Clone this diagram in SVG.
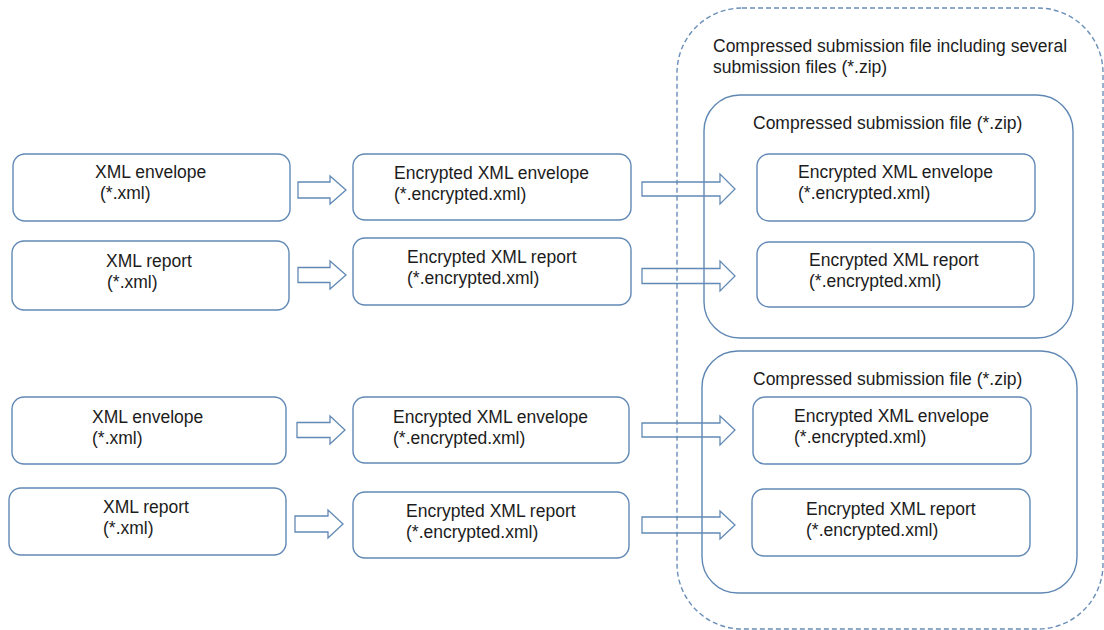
<svg xmlns="http://www.w3.org/2000/svg" width="1104" height="630" viewBox="0 0 1104 630">
<style>
.box{fill:#fff;stroke:#6189b5;stroke-width:1.4}
.cont{fill:none;stroke:#5f87b3;stroke-width:1.4}
.outer{fill:none;stroke:#6a8fb8;stroke-width:1.4;stroke-dasharray:5 3}
.arr{fill:none;stroke:#6189b5;stroke-width:1.3;stroke-linejoin:miter}
text{font-family:"Liberation Sans",Arial,sans-serif;font-size:17.5px;fill:#1c1c1c}
</style>
<rect width="1104" height="630" fill="#fff"/>
<g id="outer">
<rect class="outer" x="677" y="8" width="426" height="621" rx="65"/>
<text x="713" y="52">Compressed submission file including several</text>
<text x="713" y="73">submission files (*.zip)</text>
</g>
<g id="zip1">
<rect class="cont" x="704" y="95" width="369" height="243" rx="36"/>
<text x="753" y="129">Compressed submission file (*.zip)</text>
</g>
<g id="zip2">
<rect class="cont" x="702" y="351" width="375" height="242" rx="36"/>
<text x="753" y="385">Compressed submission file (*.zip)</text>
</g>
<g id="n1"><rect class="box" x="13" y="154" width="277" height="67" rx="12"/><text x="95" y="178">XML envelope</text><text x="100" y="199">(*.xml)</text></g>
<g id="n2"><rect class="box" x="12" y="241" width="277" height="69" rx="12"/><text x="106" y="267">XML report</text><text x="107" y="288">(*.xml)</text></g>
<g id="n3"><rect class="box" x="353" y="154" width="278" height="66" rx="12"/><text x="394" y="179">Encrypted XML envelope</text><text x="394" y="200">(*.encrypted.xml)</text></g>
<g id="n4"><rect class="box" x="353" y="238" width="278" height="67" rx="12"/><text x="407" y="263">Encrypted XML report</text><text x="407" y="284">(*.encrypted.xml)</text></g>
<g id="n5"><rect class="box" x="757" y="154" width="278" height="67" rx="12"/><text x="798" y="178">Encrypted XML envelope</text><text x="798" y="199">(*.encrypted.xml)</text></g>
<g id="n6"><rect class="box" x="757" y="242" width="277" height="65" rx="12"/><text x="809" y="266">Encrypted XML report</text><text x="809" y="287">(*.encrypted.xml)</text></g>
<g id="n7"><rect class="box" x="12" y="397" width="274" height="67" rx="12"/><text x="92" y="423">XML envelope</text><text x="92" y="444">(*.xml)</text></g>
<g id="n8"><rect class="box" x="9" y="488" width="277" height="67" rx="12"/><text x="103" y="513">XML report</text><text x="103" y="534">(*.xml)</text></g>
<g id="n9"><rect class="box" x="353" y="397" width="276" height="66" rx="12"/><text x="393" y="423">Encrypted XML envelope</text><text x="393" y="444">(*.encrypted.xml)</text></g>
<g id="n10"><rect class="box" x="353" y="492" width="276" height="66" rx="12"/><text x="406" y="517">Encrypted XML report</text><text x="406" y="538">(*.encrypted.xml)</text></g>
<g id="n11"><rect class="box" x="753" y="397" width="278" height="67" rx="12"/><text x="794" y="422">Encrypted XML envelope</text><text x="794" y="443">(*.encrypted.xml)</text></g>
<g id="n12"><rect class="box" x="752" y="489" width="278" height="67" rx="12"/><text x="806" y="515">Encrypted XML report</text><text x="806" y="536">(*.encrypted.xml)</text></g>
<g id="connectors">
<polygon class="arr" points="298,182 330,182 330,176 346,190 330,204 330,198 298,198"/>
<polygon class="arr" points="298,267.5 330,267.5 330,261 346,275 330,289 330,282.5 298,282.5"/>
<polygon class="arr" points="642,182 720,182 720,174 735,189 720,204 720,196 642,196"/>
<polygon class="arr" points="642,268.5 720,268.5 720,261 735,276 720,291 720,283.5 642,283.5"/>
<polygon class="arr" points="297,422.5 330,422.5 330,416 345,430 330,444 330,437.5 297,437.5"/>
<polygon class="arr" points="295,516 328,516 328,510 343,524 328,538 328,532 295,532"/>
<polygon class="arr" points="642,423 720,423 720,416 735,430 720,445 720,437 642,437"/>
<polygon class="arr" points="642,517 720,517 720,511 735,525 720,539 720,533 642,533"/>
</g>
</svg>
